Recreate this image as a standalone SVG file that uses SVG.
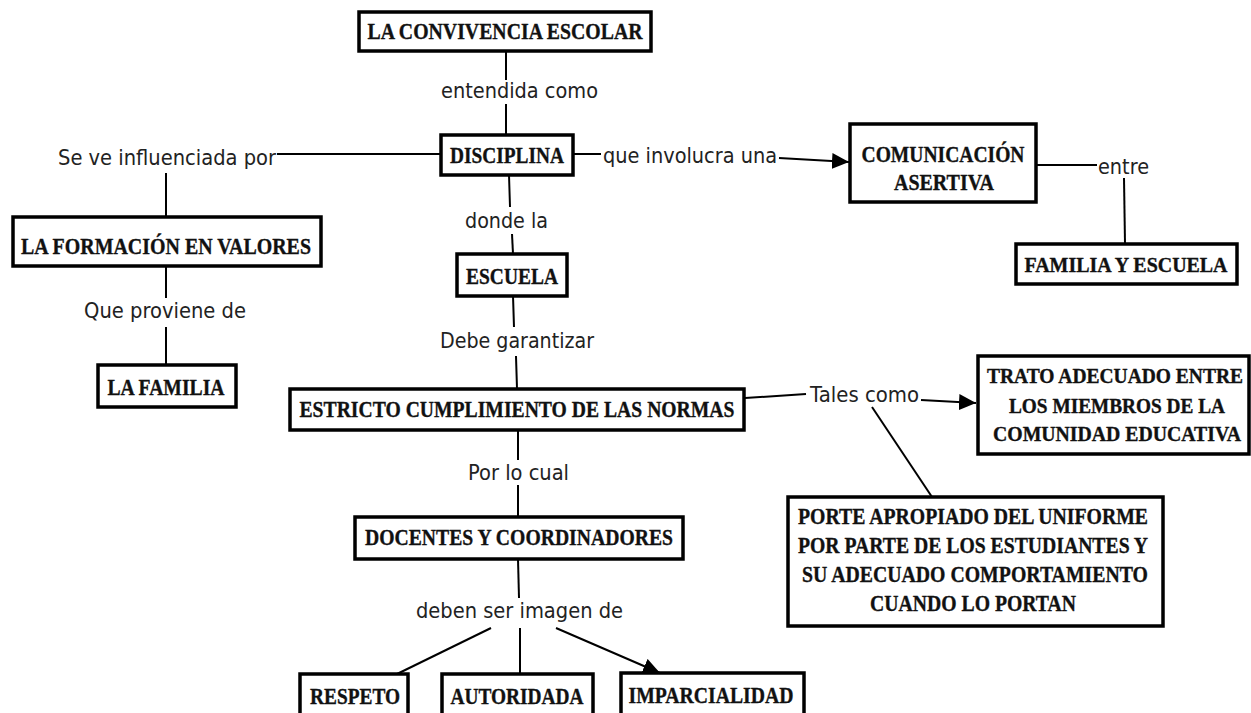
<svg xmlns="http://www.w3.org/2000/svg" width="1251" height="713" viewBox="0 0 1251 713">
<style>
.box{fill:#fff;stroke:#000;stroke-width:3.5}
.nt{font-family:"Liberation Serif","Times New Roman",serif;font-weight:bold;font-size:23px;fill:#111;stroke:#111;stroke-width:0.35;text-anchor:middle}
.sm{font-size:20px}
.lb{font-family:"DejaVu Sans","Liberation Sans",sans-serif;font-size:21px;fill:#222;text-anchor:middle}
.ln{stroke:#000;stroke-width:2;fill:none}
</style>
<defs>
<marker id="arr" markerUnits="userSpaceOnUse" markerWidth="18" markerHeight="16" refX="17" refY="8" orient="auto">
<path d="M0,0 L17,8 L0,16 z" fill="#000"/>
</marker>
</defs>
<rect width="1251" height="713" fill="#fff"/>
<g id="connectors">
<line class="ln" x1="506" y1="51" x2="506" y2="80"/>
<line class="ln" x1="506" y1="104" x2="506" y2="135"/>
<line class="ln" x1="277" y1="154" x2="441" y2="154"/>
<line class="ln" x1="166" y1="173" x2="166" y2="217"/>
<line class="ln" x1="166" y1="266" x2="166" y2="298"/>
<line class="ln" x1="166" y1="327" x2="166" y2="365"/>
<line class="ln" x1="509" y1="175" x2="510" y2="207"/>
<line class="ln" x1="512" y1="234" x2="513" y2="254"/>
<line class="ln" x1="513" y1="296" x2="514" y2="327"/>
<line class="ln" x1="516" y1="356" x2="517" y2="389"/>
<line class="ln" x1="518" y1="430" x2="518" y2="460"/>
<line class="ln" x1="518" y1="485" x2="518" y2="517"/>
<line class="ln" x1="518" y1="559" x2="519" y2="598"/>
<line class="ln" x1="491" y1="628" x2="397" y2="674"/>
<line class="ln" x1="520" y1="628" x2="520" y2="674"/>
<line class="ln" x1="556" y1="628" x2="660" y2="673" marker-end="url(#arr)"/>
<line class="ln" x1="573" y1="154" x2="601" y2="154"/>
<line class="ln" x1="779" y1="158" x2="849" y2="162" marker-end="url(#arr)"/>
<line class="ln" x1="1036" y1="165" x2="1097" y2="165"/>
<line class="ln" x1="1124" y1="178" x2="1125" y2="244"/>
<line class="ln" x1="745" y1="398" x2="806" y2="394"/>
<line class="ln" x1="921" y1="400" x2="976" y2="403" marker-end="url(#arr)"/>
<line class="ln" x1="872" y1="407" x2="932" y2="497"/>
</g>
<g id="labels">
<text class="lb" x="519.5" y="98" textLength="157" lengthAdjust="spacingAndGlyphs">entendida como</text>
<text class="lb" x="167" y="165" textLength="218" lengthAdjust="spacingAndGlyphs">Se ve influenciada por</text>
<text class="lb" x="506.5" y="228" textLength="83" lengthAdjust="spacingAndGlyphs">donde la</text>
<text class="lb" x="165" y="318" textLength="162" lengthAdjust="spacingAndGlyphs">Que proviene de</text>
<text class="lb" x="517" y="348" textLength="154" lengthAdjust="spacingAndGlyphs">Debe garantizar</text>
<text class="lb" x="518.5" y="480" textLength="101" lengthAdjust="spacingAndGlyphs">Por lo cual</text>
<text class="lb" x="519.5" y="618" textLength="207" lengthAdjust="spacingAndGlyphs">deben ser imagen de</text>
<text class="lb" x="690" y="163" textLength="174" lengthAdjust="spacingAndGlyphs">que involucra una</text>
<text class="lb" x="1123.5" y="174" textLength="51" lengthAdjust="spacingAndGlyphs">entre</text>
<text class="lb" x="864.5" y="402" textLength="109" lengthAdjust="spacingAndGlyphs">Tales como</text>
</g>
<g id="n-convivencia"><rect class="box" x="359" y="12" width="292" height="39"/><text class="nt" x="505" y="39" textLength="275" lengthAdjust="spacingAndGlyphs">LA CONVIVENCIA ESCOLAR</text></g>
<g id="n-disciplina"><rect class="box" x="441" y="135" width="132" height="40"/><text class="nt" x="507" y="163" textLength="114" lengthAdjust="spacingAndGlyphs">DISCIPLINA</text></g>
<g id="n-formacion"><rect class="box" x="13" y="217" width="308" height="49"/><text class="nt" x="166" y="254" textLength="290" lengthAdjust="spacingAndGlyphs">LA FORMACIÓN EN VALORES</text></g>
<g id="n-familia"><rect class="box" x="98" y="365" width="138" height="42"/><text class="nt" x="166" y="395" textLength="117" lengthAdjust="spacingAndGlyphs">LA FAMILIA</text></g>
<g id="n-escuela"><rect class="box" x="457" y="254" width="110" height="42"/><text class="nt" x="512" y="284" textLength="92" lengthAdjust="spacingAndGlyphs">ESCUELA</text></g>
<g id="n-estricto"><rect class="box" x="290" y="389" width="454" height="41"/><text class="nt" x="517" y="417" textLength="435" lengthAdjust="spacingAndGlyphs">ESTRICTO CUMPLIMIENTO DE LAS NORMAS</text></g>
<g id="n-docentes"><rect class="box" x="355" y="517" width="328" height="42"/><text class="nt" x="519" y="545" textLength="308" lengthAdjust="spacingAndGlyphs">DOCENTES Y COORDINADORES</text></g>
<g id="n-respeto"><rect class="box" x="300" y="674" width="108" height="50"/><text class="nt" x="355" y="704" textLength="90" lengthAdjust="spacingAndGlyphs">RESPETO</text></g>
<g id="n-autoridada"><rect class="box" x="442" y="674" width="151" height="50"/><text class="nt" x="517" y="704" textLength="133" lengthAdjust="spacingAndGlyphs">AUTORIDADA</text></g>
<g id="n-imparcialidad"><rect class="box" x="621" y="673" width="183" height="50"/><text class="nt" x="711" y="703" textLength="165" lengthAdjust="spacingAndGlyphs">IMPARCIALIDAD</text></g>
<g id="n-comunicacion"><rect class="box" x="850" y="124" width="186" height="78"/><text class="nt" x="943" y="162" textLength="163" lengthAdjust="spacingAndGlyphs">COMUNICACIÓN</text><text class="nt" x="944" y="190" textLength="100" lengthAdjust="spacingAndGlyphs">ASERTIVA</text></g>
<g id="n-familia-escuela"><rect class="box" x="1016" y="244" width="221" height="40"/><text class="nt sm" x="1126" y="272" textLength="203" lengthAdjust="spacingAndGlyphs">FAMILIA Y ESCUELA</text></g>
<g id="n-trato"><rect class="box" x="978" y="356" width="271" height="98"/><text class="nt sm" x="1115" y="383" textLength="256" lengthAdjust="spacingAndGlyphs">TRATO ADECUADO ENTRE</text><text class="nt sm" x="1117" y="413" textLength="216" lengthAdjust="spacingAndGlyphs">LOS MIEMBROS DE LA</text><text class="nt sm" x="1117" y="441" textLength="248" lengthAdjust="spacingAndGlyphs">COMUNIDAD EDUCATIVA</text></g>
<g id="n-porte"><rect class="box" x="788" y="497" width="375" height="129"/><text class="nt" x="973" y="524" textLength="350" lengthAdjust="spacingAndGlyphs">PORTE APROPIADO DEL UNIFORME</text><text class="nt" x="973" y="553" textLength="350" lengthAdjust="spacingAndGlyphs">POR PARTE DE LOS ESTUDIANTES Y</text><text class="nt" x="975" y="582" textLength="346" lengthAdjust="spacingAndGlyphs">SU ADECUADO COMPORTAMIENTO</text><text class="nt" x="973" y="611" textLength="206" lengthAdjust="spacingAndGlyphs">CUANDO LO PORTAN</text></g>
</svg>
